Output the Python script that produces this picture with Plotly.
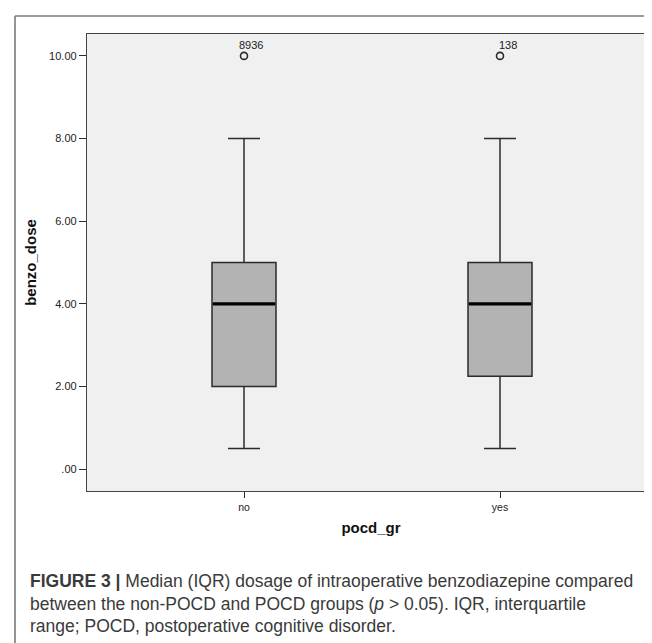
import plotly.graph_objects as go

# ---------------- data ----------------
categories = ["no", "yes"]
cat_pos = [0, 1]
q1_vals = [2.0, 2.25]
median_vals = [4.0, 4.0]
q3_vals = [5.0, 5.0]
lower_whisker = [0.5, 0.5]
upper_whisker = [8.0, 8.0]
outlier_vals = [10.0, 10.0]
outlier_labels = ["8936", "138"]
y_tickvals = [0, 2, 4, 6, 8, 10]
y_ticktext = [".00", "2.00", "4.00", "6.00", "8.00", "10.00"]

# ---------------- layout geometry (pixels) ----------------
W, H = 652, 643
ML, MR, MT, MB = 79, 5, 26, 160
PW, PH = W - ML - MR, H - MT - MB


def px_x(px):
    return (px - ML) / PW


def px_y(py):
    return (H - MB - py) / PH


BOX_W = 0.25
LINE_C = "#2b2b2b"
FONT = "Liberation Sans, Arial, sans-serif"

fig = go.Figure()

for i, cat in enumerate(categories):
    fig.add_trace(go.Box(
        x=[cat_pos[i]],
        q1=[q1_vals[i]], median=[median_vals[i]], q3=[q3_vals[i]],
        lowerfence=[lower_whisker[i]], upperfence=[upper_whisker[i]],
        width=BOX_W, whiskerwidth=0.5,
        fillcolor="#b3b3b3",
        line=dict(color=LINE_C, width=1.5),
        boxpoints=False, showlegend=False, hoverinfo="skip",
    ))
    # thick median line
    fig.add_trace(go.Scatter(
        x=[cat_pos[i] - BOX_W / 2 + 0.004, cat_pos[i] + BOX_W / 2 - 0.004],
        y=[median_vals[i], median_vals[i]],
        mode="lines", line=dict(color="black", width=3.2),
        showlegend=False, hoverinfo="skip",
    ))

# outliers
fig.add_trace(go.Scatter(
    x=cat_pos, y=outlier_vals, mode="markers",
    marker=dict(symbol="circle-open", size=7, color=LINE_C, line=dict(width=1.6)),
    showlegend=False, hoverinfo="skip",
))
for i, lab in enumerate(outlier_labels):
    fig.add_annotation(
        x=cat_pos[i], y=outlier_vals[i], text=lab, showarrow=False,
        xanchor="left", yanchor="bottom",
        xshift=-7 if len(lab) > 3 else -3, yshift=3,
        font=dict(family=FONT, size=11, color="#222"),
    )

fig.update_xaxes(
    range=[-(236 - ML) / 256, 1 + (W - MR - 492) / 256],
    tickvals=cat_pos, ticktext=categories,
    ticks="outside", ticklen=6, tickcolor=LINE_C, tickwidth=1.3,
    showline=True, linecolor="#444", linewidth=1.3, mirror=True,
    showgrid=False, zeroline=False,
    tickfont=dict(family=FONT, size=10.5, color="#222"),
    title=dict(text="<b>pocd_gr</b>", font=dict(family=FONT, size=15, color="#111"),
               standoff=10),
)
fig.update_yaxes(
    range=[-0.53, 10.53],
    tickvals=y_tickvals, ticktext=y_ticktext,
    ticks="outside", ticklen=7, tickcolor=LINE_C, tickwidth=1.3,
    showline=True, linecolor="#444", linewidth=1.3, mirror=True,
    showgrid=False, zeroline=False,
    tickfont=dict(family=FONT, size=11, color="#222"),
    title=dict(text="<b>benzo_dose</b>", font=dict(family=FONT, size=15, color="#111"),
               standoff=8),
)

# outer figure frame (top and left edges)
fig.add_shape(type="line", xref="paper", yref="paper",
              x0=px_x(7), x1=px_x(W + 5), y0=px_y(8), y1=px_y(8),
              line=dict(color="#7a7a7a", width=1.6))
fig.add_shape(type="line", xref="paper", yref="paper",
              x0=px_x(7), x1=px_x(7), y0=px_y(8), y1=px_y(H + 5),
              line=dict(color="#7a7a7a", width=1.6))

# caption
cap_lines = [
    "<b>FIGURE 3 |</b> Median (IQR) dosage of intraoperative benzodiazepine compared",
    "between the non-POCD and POCD groups (<i>p</i> &gt; 0.05). IQR, interquartile",
    "range; POCD, postoperative cognitive disorder.",
]
for k, line in enumerate(cap_lines):
    fig.add_annotation(
        xref="paper", yref="paper", x=px_x(20), y=px_y(573 + 22.5 * k),
        text=line, showarrow=False, xanchor="left", yanchor="middle",
        font=dict(family=FONT, size=17.5, color="#3a3a3a"),
    )

fig.update_layout(
    width=W, height=H,
    margin=dict(l=ML, r=MR, t=MT, b=MB, autoexpand=False),
    paper_bgcolor="white", plot_bgcolor="#f0f0f0",
    hovermode=False,
)

fig.write_html("out.html", config={"displayModeBar": False})
